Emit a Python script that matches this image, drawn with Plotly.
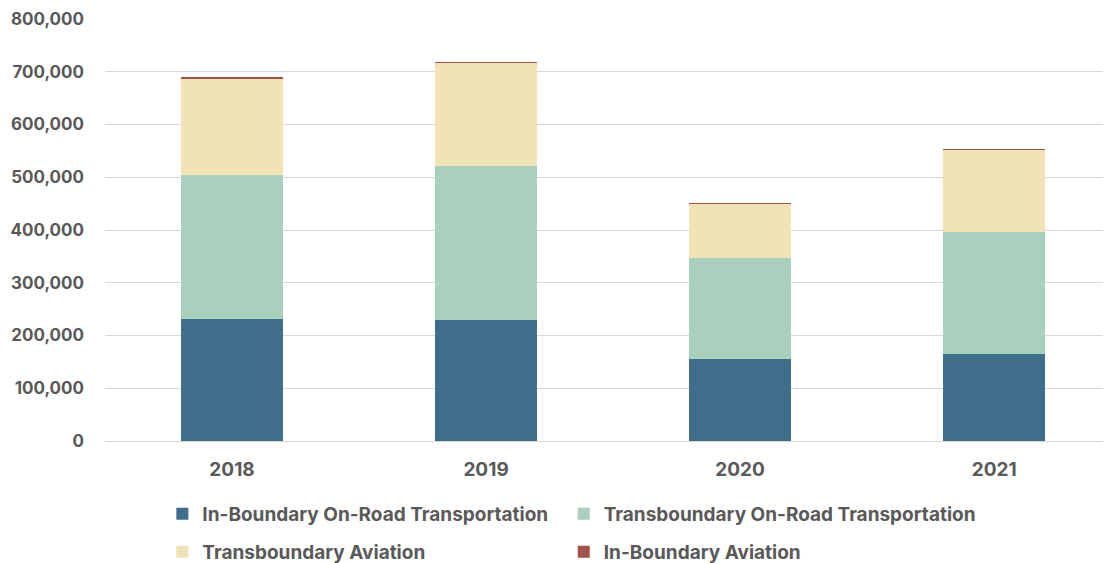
import plotly.graph_objects as go

years = ["2018", "2019", "2020", "2021"]

in_boundary_road = [231300, 228800, 154900, 164400]
transboundary_road = [273000, 293100, 192000, 231800]
transboundary_aviation = [182600, 195600, 102600, 155500]
in_boundary_aviation = [2500, 600, 900, 1100]

# (name, values, colour, legend id)
series = [
    ("In-Boundary On-Road Transportation", in_boundary_road, "#3f6e8b", "legend"),
    ("Transboundary On-Road Transportation", transboundary_road, "#a9cfbd", "legend2"),
    ("Transboundary Aviation", transboundary_aviation, "#f0e4b6", "legend3"),
    ("In-Boundary Aviation", in_boundary_aviation, "#a0524a", "legend4"),
]

text_color = "#595959"
font_family = "Inter, 'Open Sans', sans-serif"

fig = go.Figure()
for name, values, color, leg in series:
    fig.add_trace(go.Bar(
        x=years, y=values, name=name, legend=leg,
        marker=dict(color=color, line=dict(width=0)),
    ))

legend_style = dict(
    orientation="h",
    xanchor="left",
    yanchor="top",
    font=dict(size=19, family=font_family, color=text_color, weight="bold"),
    itemclick=False,
    itemdoubleclick=False,
)
col1, col2 = 0.057, 0.456
row1, row2 = -0.128, -0.218

# page body has an 8px default margin, so the figure is shifted by 8px
fig.update_layout(
    barmode="stack",
    bargap=0.6,
    width=1103, height=555,
    margin=dict(l=97, r=0, t=11, b=122, autoexpand=False),
    plot_bgcolor="white",
    paper_bgcolor="white",
    font=dict(family=font_family, color=text_color, size=16),
    showlegend=True,
    legend=dict(legend_style, x=col1, y=row1),
    legend2=dict(legend_style, x=col2, y=row1),
    legend3=dict(legend_style, x=col1, y=row2),
    legend4=dict(legend_style, x=col2, y=row2),
    xaxis=dict(
        range=[-0.5, 3.46],
        showgrid=False,
        showline=False,
        ticks="",
        automargin=False,
        ticklabelstandoff=15,
        tickfont=dict(size=19, weight="bold"),
    ),
    yaxis=dict(
        range=[0, 800000],
        dtick=100000,
        tickformat=",",
        showgrid=True,
        gridcolor="#d9d9d9",
        gridwidth=1,
        zeroline=True,
        zerolinecolor="#d9d9d9",
        zerolinewidth=1,
        showline=False,
        ticks="",
        automargin=False,
        ticklabelstandoff=20,
        tickfont=dict(size=17, weight="bold"),
    ),
)

fig.write_html("out.html")
